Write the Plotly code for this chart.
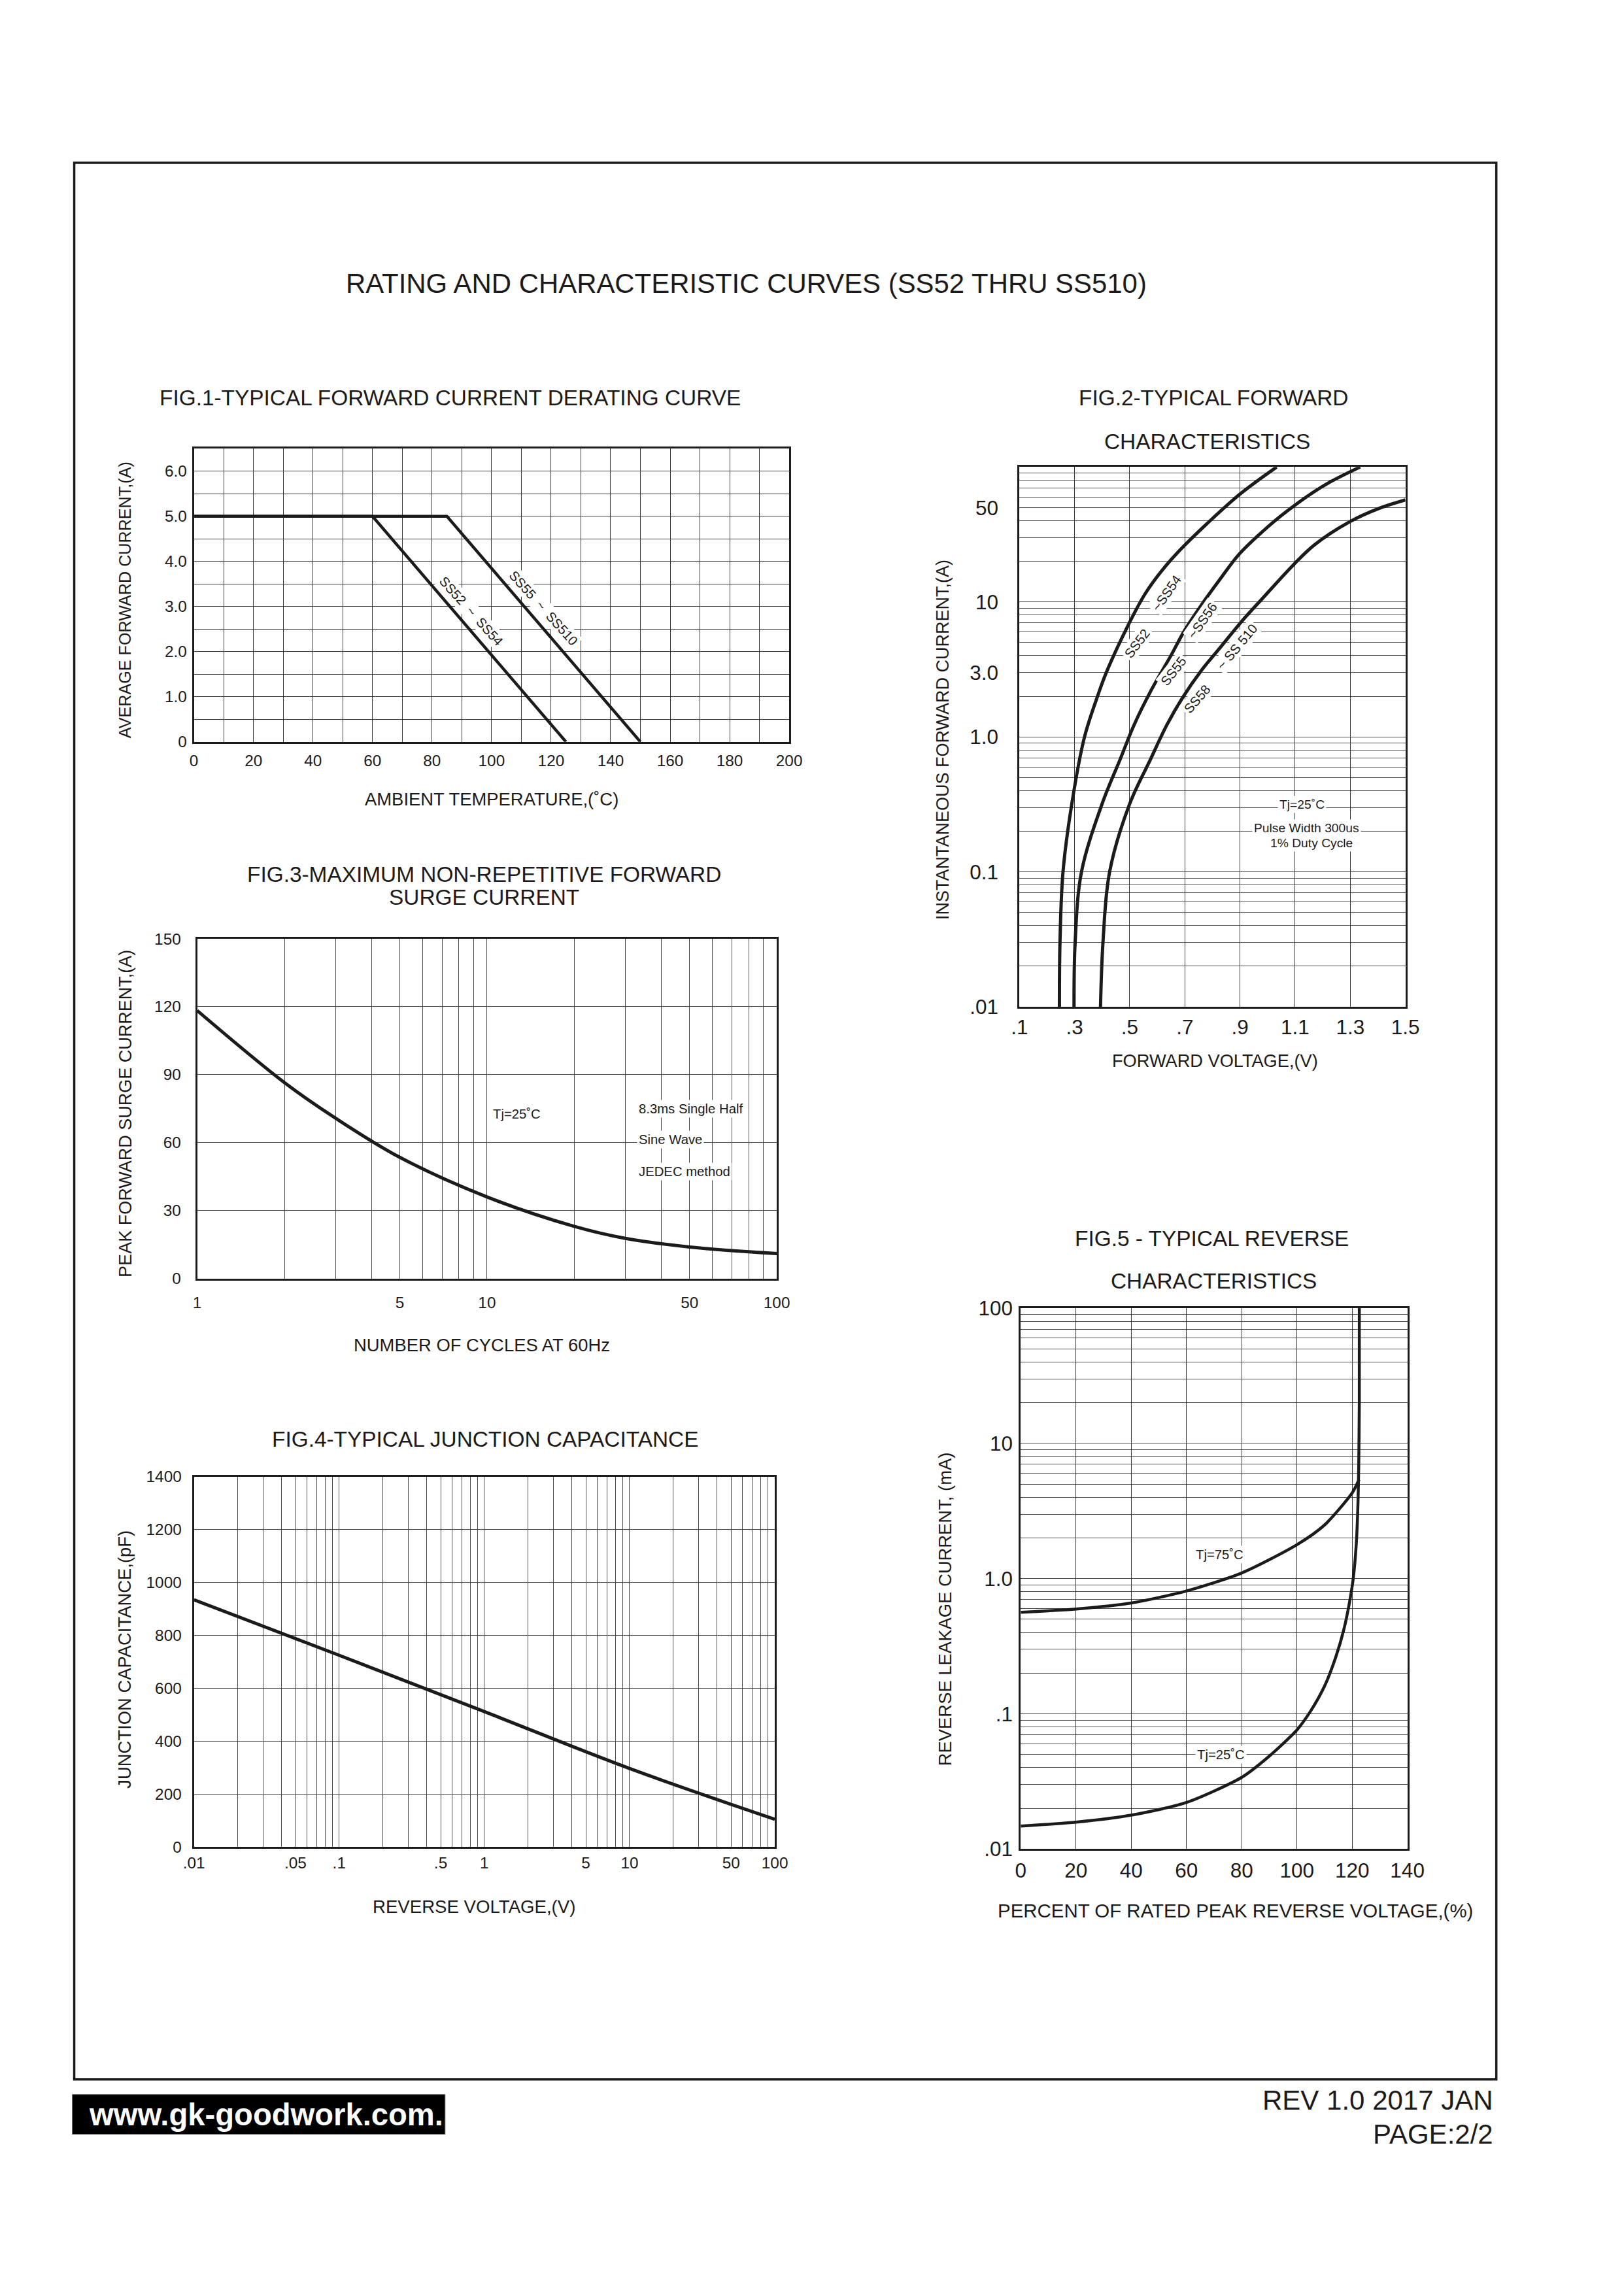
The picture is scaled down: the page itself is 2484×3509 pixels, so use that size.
import math
import plotly.graph_objects as go

# ---------------- data ----------------
# FIG.1 derating curve
FIG1_TEMP_SS52 = [0, 60, 125]
FIG1_CURR_SS52 = [5.0, 5.0, 0.0]
FIG1_TEMP_SS55 = [0, 85, 150]
FIG1_CURR_SS55 = [5.0, 5.0, 0.0]
FIG1_X_TICKS = [0, 20, 40, 60, 80, 100, 120, 140, 160, 180, 200]
FIG1_X_TICKTEXT = ["0", "20", "40", "60", "80", "100", "120", "140", "160", "180", "200"]
FIG1_Y_TICKS = [0, 1, 2, 3, 4, 5, 6]
FIG1_Y_TICKTEXT = ["0", "1.0", "2.0", "3.0", "4.0", "5.0", "6.0"]

# FIG.2 forward characteristics
FIG2_V_SS52 = [0.245, 0.247, 0.258, 0.29, 0.336, 0.385, 0.415, 0.492, 0.556, 0.619, 0.682, 0.78, 0.90, 1.033]
FIG2_I_SS52 = [0.01, 0.03, 0.1, 0.32, 1.0, 2.05, 3.0, 6.58, 11.5, 17.3, 24.2, 38, 63, 100]
FIG2_V_SS55 = [0.298, 0.302, 0.325, 0.40, 0.465, 0.516, 0.579, 0.651, 0.698, 0.761, 0.824, 0.896, 0.98, 1.07, 1.2, 1.336]
FIG2_I_SS55 = [0.01, 0.03, 0.1, 0.32, 0.68, 1.23, 2.24, 4.06, 6.1, 9.55, 14.4, 22.5, 33, 47, 72, 100]
FIG2_V_SS58 = [0.394, 0.403, 0.427, 0.50, 0.575, 0.635, 0.69, 0.761, 0.833, 0.904, 0.983, 1.09, 1.17, 1.3, 1.4, 1.5]
FIG2_I_SS58 = [0.01, 0.03, 0.1, 0.32, 0.68, 1.23, 1.93, 3.13, 4.72, 7.1, 10.7, 18.5, 26.5, 39.5, 49, 57]
FIG2_X_TICKS = [0.1, 0.3, 0.5, 0.7, 0.9, 1.1, 1.3, 1.5]
FIG2_X_TICKTEXT = [".1", ".3", ".5", ".7", ".9", "1.1", "1.3", "1.5"]
FIG2_Y_TICKS = [0.01, 0.1, 1, 3, 10, 50]
FIG2_Y_TICKTEXT = [".01", "0.1", "1.0", "3.0", "10", "50"]

# FIG.3 surge current
FIG3_CYCLES = [1, 2, 3, 5, 10, 20, 30, 50, 100]
FIG3_SURGE = [118.3, 86.5, 70.8, 53.5, 36.0, 23.0, 17.7, 13.9, 11.0]
FIG3_X_TICKS = [1, 5, 10, 50, 100]
FIG3_X_TICKTEXT = ["1", "5", "10", "50", "100"]
FIG3_Y_TICKS = [0, 30, 60, 90, 120, 150]
FIG3_Y_TICKTEXT = ["0", "30", "60", "90", "120", "150"]

# FIG.4 junction capacitance
FIG4_VOLT = [0.01, 0.1, 1, 10, 100]
FIG4_CAP = [935, 725, 512, 297, 105]
FIG4_X_TICKS = [0.01, 0.05, 0.1, 0.5, 1, 5, 10, 50, 100]
FIG4_X_TICKTEXT = [".01", ".05", ".1", ".5", "1", "5", "10", "50", "100"]
FIG4_Y_TICKS = [0, 200, 400, 600, 800, 1000, 1200, 1400]
FIG4_Y_TICKTEXT = ["0", "200", "400", "600", "800", "1000", "1200", "1400"]

# FIG.5 reverse characteristics
FIG5_PCT_75 = [0, 20, 40, 60, 80, 100, 110, 120, 122.5]
FIG5_IR_75 = [0.563, 0.596, 0.66, 0.81, 1.10, 1.78, 2.49, 4.3, 5.4]
FIG5_PCT_25 = [0, 20, 40, 60, 80, 90, 100, 105, 110, 114, 117, 119, 120.4, 121.5, 122.1, 122.4, 122.6, 122.6]
FIG5_IR_25 = [0.0148, 0.0158, 0.0178, 0.0221, 0.0339, 0.0487, 0.076, 0.105, 0.16, 0.26, 0.42, 0.66, 1.0, 1.8, 3.5, 7.0, 20, 100]
FIG5_X_TICKS = [0, 20, 40, 60, 80, 100, 120, 140]
FIG5_X_TICKTEXT = ["0", "20", "40", "60", "80", "100", "120", "140"]
FIG5_Y_TICKS = [0.01, 0.1, 1, 10, 100]
FIG5_Y_TICKTEXT = [".01", ".1", "1.0", "10", "100"]

# ---------------- page geometry ----------------
# measured mapping of figure pixels onto the photographed page
AX, SX = 24.5, 0.982
AY, SY = 24.3, 0.989
W, H = 2460, 3480
FS = 1 / 0.985           # font compensation for the page scaling
FONT = "Liberation Sans, Arial, Helvetica, sans-serif"
INK = "#1c1a1a"


def px(x):
    return ((x - AX) / SX) / W


def py(y):
    return 1 - ((y - AY) / SY) / H


def f(size):
    return size * FS


def log_minor(dec_from, dec_to):
    return [m * 10 ** d for d in range(dec_from, dec_to) for m in range(2, 10)]


def axis(dom, rng, tickvals, ticktext, tsize, standoff, grid, minor_vals=None, log=False, anchor=None):
    d = dict(
        domain=dom, range=rng, type="log" if log else "linear",
        tickmode="array", tickvals=tickvals, ticktext=ticktext,
        tickfont=dict(family=FONT, size=f(tsize), color=INK),
        ticks="", ticklabelstandoff=standoff,
        showline=True, linecolor=INK, linewidth=3, mirror=True,
        showgrid=True, gridcolor=grid, gridwidth=1, zeroline=False,
        anchor=anchor, fixedrange=True,
    )
    if minor_vals is not None:
        d["minor"] = dict(tickmode="array", tickvals=minor_vals, showgrid=True,
                          gridcolor=grid, gridwidth=1, ticks="")
    return d


fig = go.Figure()

LW = 4.5
# FIG.1
fig.add_trace(go.Scatter(x=FIG1_TEMP_SS52, y=FIG1_CURR_SS52, mode="lines",
                         line=dict(color=INK, width=LW), xaxis="x", yaxis="y"))
fig.add_trace(go.Scatter(x=FIG1_TEMP_SS55, y=FIG1_CURR_SS55, mode="lines",
                         line=dict(color=INK, width=LW), xaxis="x", yaxis="y"))
# FIG.2
for v, i in [(FIG2_V_SS52, FIG2_I_SS52), (FIG2_V_SS55, FIG2_I_SS55), (FIG2_V_SS58, FIG2_I_SS58)]:
    fig.add_trace(go.Scatter(x=v, y=i, mode="lines",
                             line=dict(color=INK, width=5, shape="spline", smoothing=1.0),
                             xaxis="x2", yaxis="y2"))
# FIG.3
fig.add_trace(go.Scatter(x=FIG3_CYCLES, y=FIG3_SURGE, mode="lines",
                         line=dict(color=INK, width=5, shape="spline", smoothing=1.0),
                         xaxis="x3", yaxis="y3"))
# FIG.4
fig.add_trace(go.Scatter(x=FIG4_VOLT, y=FIG4_CAP, mode="lines",
                         line=dict(color=INK, width=5, shape="spline", smoothing=1.0),
                         xaxis="x4", yaxis="y4"))
# FIG.5
fig.add_trace(go.Scatter(x=FIG5_PCT_75, y=FIG5_IR_75, mode="lines",
                         line=dict(color=INK, width=LW, shape="spline", smoothing=0.7),
                         xaxis="x5", yaxis="y5"))
fig.add_trace(go.Scatter(x=FIG5_PCT_25, y=FIG5_IR_25, mode="lines",
                         line=dict(color=INK, width=LW, shape="spline", smoothing=0.7),
                         xaxis="x5", yaxis="y5"))

GRID1 = "#3a3a3a"
GRID = "#4a4a4a"

fig.update_layout(
    width=W, height=H, margin=dict(l=0, r=0, t=0, b=0),
    paper_bgcolor="white", plot_bgcolor="white", showlegend=False,
    font=dict(family=FONT, color=INK),
    xaxis=axis([px(296), px(1206)], [0, 200], FIG1_X_TICKS, FIG1_X_TICKTEXT, 24, 5, GRID1,
               minor_vals=list(range(10, 200, 20)), anchor="y"),
    yaxis=axis([py(1133), py(685)], [0, 6.5], FIG1_Y_TICKS, FIG1_Y_TICKTEXT, 24, 3, GRID1,
               minor_vals=[0.5, 1.5, 2.5, 3.5, 4.5, 5.5], anchor="x"),
    xaxis2=axis([px(1558), px(2148)], [0.1, 1.5], FIG2_X_TICKS, FIG2_X_TICKTEXT, 31, 1, GRID1,
                anchor="y2"),
    yaxis2=axis([py(1538), py(713)], [-2, 2], FIG2_Y_TICKS, FIG2_Y_TICKTEXT, 31, 23, GRID,
                minor_vals=log_minor(-2, 2), log=True, anchor="x2"),
    xaxis3=axis([px(301), px(1187)], [0, 2], FIG3_X_TICKS, FIG3_X_TICKTEXT, 24, 13, GRID,
                minor_vals=log_minor(0, 2), log=True, anchor="y3"),
    yaxis3=axis([py(1953), py(1434)], [0, 150], FIG3_Y_TICKS, FIG3_Y_TICKTEXT, 24, 17, GRID,
                anchor="x3"),
    xaxis4=axis([px(296), px(1184)], [-2, 2], FIG4_X_TICKS, FIG4_X_TICKTEXT, 24, 0, GRID,
                minor_vals=log_minor(-2, 2), log=True, anchor="y4"),
    yaxis4=axis([py(2822), py(2256)], [0, 1400], FIG4_Y_TICKS, FIG4_Y_TICKTEXT, 24, 11, GRID,
                anchor="x4"),
    xaxis5=axis([px(1560), px(2151)], [0, 140], FIG5_X_TICKS, FIG5_X_TICKTEXT, 31, 3, GRID1,
                anchor="y5"),
    yaxis5=axis([py(2825), py(1998.5)], [-2, 2], FIG5_Y_TICKS, FIG5_Y_TICKTEXT, 31, 3, GRID,
                minor_vals=log_minor(-2, 2), log=True, anchor="x5"),
)

ann = []


def page_text(text, x, y, size, xanchor="center", color=INK, angle=0, bold=False):
    if bold:
        text = "<b>" + text + "</b>"
    ann.append(dict(text=text, x=px(x), y=py(y), xref="paper", yref="paper",
                    xanchor=xanchor, yanchor="middle", showarrow=False, textangle=angle,
                    font=dict(family=FONT, size=f(size), color=color)))


def data_text(text, x, y, ax, size, angle=0, xanchor="center", bg="white"):
    ann.append(dict(text=text, x=x, y=y, xref=ax[0], yref=ax[1], xanchor=xanchor,
                    yanchor="middle", showarrow=False, textangle=angle, bgcolor=bg,
                    borderpad=2, font=dict(family=FONT, size=f(size), color=INK)))


# titles
page_text("RATING AND CHARACTERISTIC CURVES (SS52 THRU SS510)", 1140, 432, 41.3)
page_text("FIG.1-TYPICAL FORWARD CURRENT DERATING CURVE", 688, 607, 32.9)
page_text("FIG.2-TYPICAL FORWARD", 1855, 607, 32.9)
page_text("CHARACTERISTICS", 1845, 674, 32.9)
page_text("FIG.3-MAXIMUM NON-REPETITIVE FORWARD", 740, 1336, 32.9)
page_text("SURGE CURRENT", 740, 1371, 32.9)
page_text("FIG.4-TYPICAL JUNCTION CAPACITANCE", 741, 2199, 32.9)
page_text("FIG.5 - TYPICAL REVERSE", 1852, 1892, 32.9)
page_text("CHARACTERISTICS", 1855, 1957, 32.9)

# axis titles
page_text("AMBIENT TEMPERATURE,(˚C)", 751, 1221, 27)
page_text("AVERAGE FORWARD CURRENT,(A)", 190, 916, 24.8, angle=-90)
page_text("FORWARD VOLTAGE,(V)", 1857, 1620, 26.8)
page_text("INSTANTANEOUS FORWARD CURRENT,(A)", 1441, 1130, 26.6, angle=-90)
page_text("NUMBER OF CYCLES AT 60Hz", 736, 2055, 27)
page_text("PEAK FORWARD SURGE CURRENT,(A)", 192, 1701, 26.6, angle=-90)
page_text("REVERSE VOLTAGE,(V)", 724, 2913, 27.2)
page_text("JUNCTION CAPACITANCE,(pF)", 190, 2535, 27, angle=-90)
page_text("PERCENT OF RATED PEAK REVERSE VOLTAGE,(%)", 1888, 2919, 29)
page_text("REVERSE LEAKAGE CURRENT, (mA)", 1444, 2458, 27, angle=-90)

# in-plot labels
data_text("SS52  ~  SS54", 93.2, 2.90, ("x", "y"), 20, angle=48)
data_text("SS55  ~  SS510", 117.4, 2.97, ("x", "y"), 20, angle=48)

L = math.log10
data_text("SS52", 0.527, L(4.96), ("x2", "y2"), 20, angle=-53)
data_text("~SS54", 0.634, L(11.7), ("x2", "y2"), 20, angle=-55)
data_text("SS55", 0.658, L(3.07), ("x2", "y2"), 20, angle=-52)
data_text("~SS56", 0.764, L(7.33), ("x2", "y2"), 20, angle=-55)
data_text("SS58", 0.745, L(1.92), ("x2", "y2"), 20, angle=-49)
data_text("~ SS 510", 0.888, L(4.64), ("x2", "y2"), 20, angle=-50)
data_text("Tj=25˚C", 1.124, L(0.317), ("x2", "y2"), 19)
data_text("Pulse Width 300us", 1.142, L(0.212), ("x2", "y2"), 19)
data_text("1% Duty Cycle", 1.16, L(0.163), ("x2", "y2"), 19)

data_text("Tj=25˚C", L(10.3), 72.5, ("x3", "y3"), 20, xanchor="left")
data_text("8.3ms Single Half", L(32.9), 74.9, ("x3", "y3"), 20, xanchor="left")
data_text("Sine Wave", L(32.9), 61.3, ("x3", "y3"), 20, xanchor="left")
data_text("JEDEC method", L(32.9), 47.1, ("x3", "y3"), 20, xanchor="left")

data_text("Tj=75˚C", 72.1, L(1.51), ("x5", "y5"), 20)
data_text("Tj=25˚C", 72.5, L(0.0499), ("x5", "y5"), 20)

# footer
page_text("www.gk-goodwork.com.", 406, 3231, 46.5, color="white", bold=True)
page_text("REV 1.0 2017 JAN", 2284, 3209, 41.4, xanchor="right")
page_text("PAGE:2/2", 2284, 3261, 41.4, xanchor="right")

fig.update_layout(annotations=ann)

fig.update_layout(shapes=[
    dict(type="rect", xref="paper", yref="paper", x0=px(113), x1=px(2287), y0=py(3177), y1=py(248),
         line=dict(color=INK, width=3.5), fillcolor="rgba(0,0,0,0)", layer="below"),
    dict(type="rect", xref="paper", yref="paper", x0=px(110), x1=px(680), y0=py(3261), y1=py(3200),
         line=dict(color="#777", width=1), fillcolor="black", layer="below"),
])

fig.write_html("out.html")
